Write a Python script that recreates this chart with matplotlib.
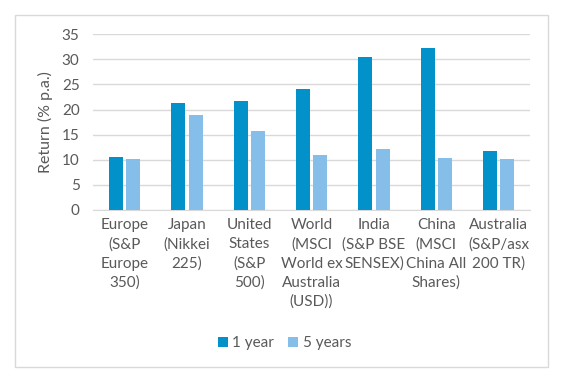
import matplotlib.pyplot as plt
import numpy as np
from matplotlib.patches import Rectangle

categories = [
    "Europe\n(S&P\nEurope\n350)",
    "Japan\n(Nikkei\n225)",
    "United\nStates\n(S&P\n500)",
    "World\n(MSCI\nWorld ex\nAustralia\n(USD))",
    "India\n(S&P BSE\nSENSEX)",
    "China\n(MSCI\nChina All\nShares)",
    "Australia\n(S&P/asx\n200 TR)",
]
one_year = [10.6, 21.3, 21.7, 24.1, 30.5, 32.3, 11.8]
five_years = [10.2, 18.9, 15.7, 11.0, 12.2, 10.4, 10.2]

plt.rcParams['font.family'] = ['Lato', 'DejaVu Sans']

fig = plt.figure(figsize=(5.63, 3.79), dpi=100)
ax = fig.add_axes([0.166, 0.446, 0.775, 0.4635])

# chart border like Excel
fig.patches.append(Rectangle((15 / 563, 1 - 367 / 379), 533 / 563, 352 / 379,
                             transform=fig.transFigure, fill=False,
                             edgecolor='#D9D9D9', linewidth=1))

x = np.arange(len(categories))
w = 0.225
ax.bar(x - w / 2 - 0.025, one_year, w, color='#0391C9', label='1 year', zorder=3)
ax.bar(x + w / 2 + 0.025, five_years, w, color='#85BEE8', label='5 years', zorder=3)

ax.set_xlim(-0.5, len(categories) - 0.5)
ax.set_ylim(0, 35)
ax.set_yticks(range(0, 36, 5))
ax.set_xticks(x)
ax.set_xticklabels(categories, fontsize=11, color='#595959', linespacing=1.45)
ax.tick_params(axis='y', labelsize=11, labelcolor='#595959', length=0, pad=10)
ax.tick_params(axis='x', length=0, pad=6)
ax.grid(axis='y', color='#D9D9D9', linewidth=1, zorder=0)
for s in ['top', 'right', 'left']:
    ax.spines[s].set_visible(False)
ax.spines['bottom'].set_color('#D9D9D9')
ax.set_ylabel('Return (% p.a.)', fontsize=11.5, color='#595959', labelpad=6)

ax.legend(loc='center', bbox_to_anchor=(284.5 / 563, 1 - 343 / 379),
          bbox_transform=fig.transFigure, ncol=2, frameon=False,
          fontsize=11, labelcolor='#595959', handlelength=0.65,
          handleheight=0.65, handletextpad=0.3, columnspacing=0.9)

fig.savefig('out.png', dpi=100)
